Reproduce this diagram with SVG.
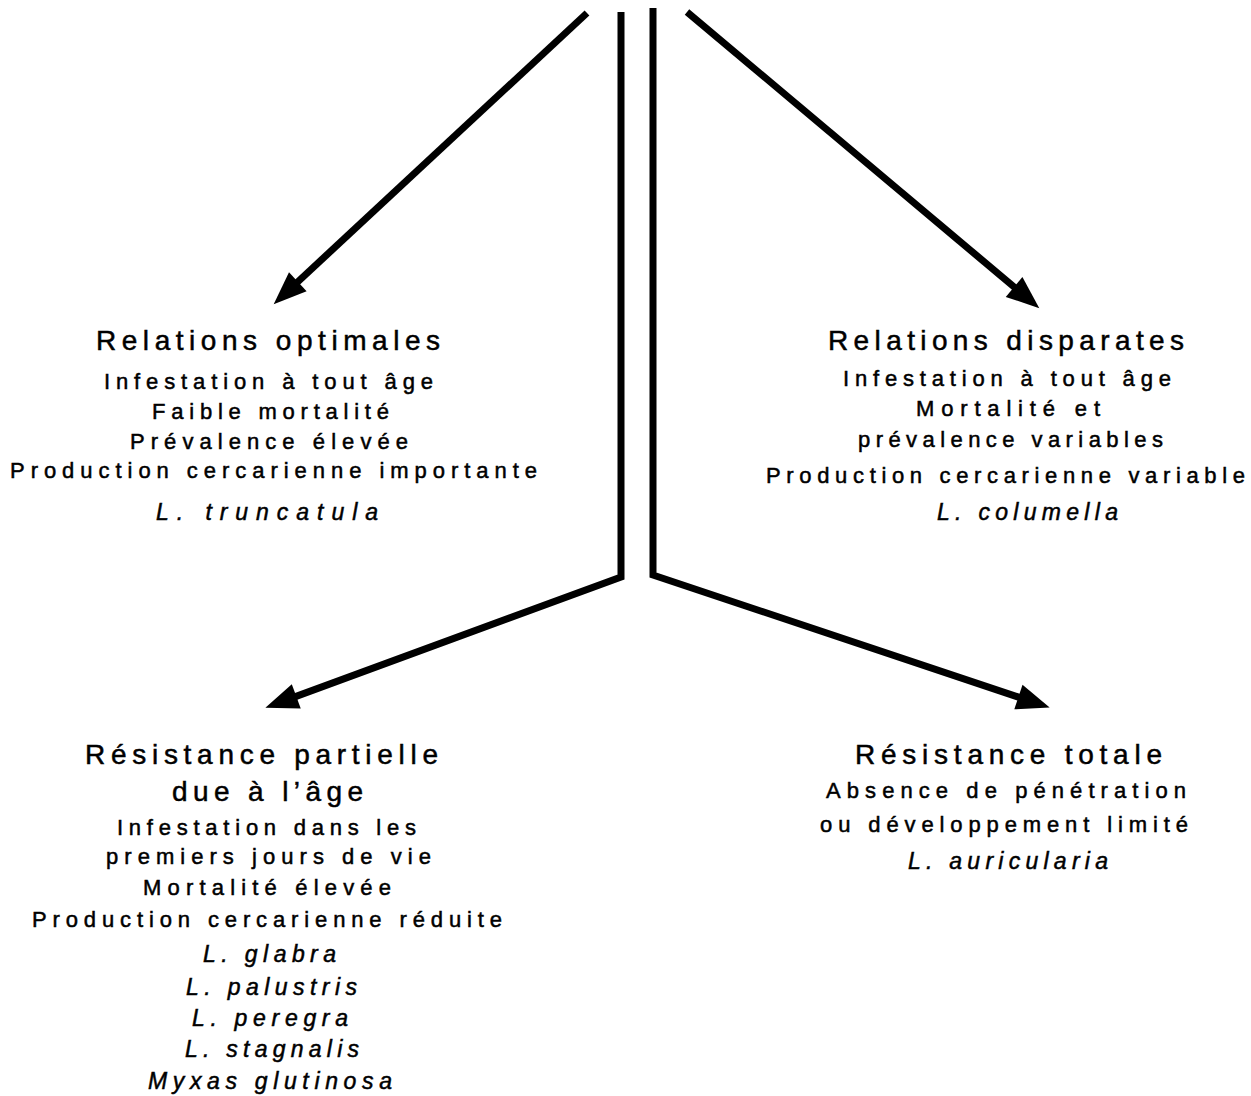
<svg xmlns="http://www.w3.org/2000/svg" width="1251" height="1096" viewBox="0 0 1251 1096">
<style>
text{font-family:"Liberation Sans",Arial,sans-serif;fill:#000;stroke:#000;stroke-width:0.5}
.t{font-size:28px}
.b{font-size:22px}
.s{font-size:23px;font-style:italic}
.c{fill:none;stroke:#000;stroke-width:7;stroke-linejoin:miter}
</style>
<defs>
<marker id="ah" markerUnits="userSpaceOnUse" markerWidth="40" markerHeight="40" refX="18" refY="0" viewBox="-2 -14 34 28" orient="auto">
<path d="M0,-11 L28,0 L0,11 Z" fill="#000"/>
</marker>
</defs>
<rect width="1251" height="1096" fill="#fff"/>
<g id="connectors">
<line class="c" x1="587" y1="13" x2="282.3" y2="296.2" marker-end="url(#ah)"/>
<line class="c" x1="687" y1="12" x2="1030.3" y2="300.6" marker-end="url(#ah)"/>
<polyline class="c" points="621,12 621,577 276.4,703.6" marker-end="url(#ah)"/>
<polyline class="c" points="653,8 653,575 1038.5,703.8" marker-end="url(#ah)"/>
</g>
<g id="optimales">
<text class="t" x="96" y="350" textLength="344" lengthAdjust="spacing">Relations optimales</text>
<text class="b" x="104" y="389" textLength="329" lengthAdjust="spacing">Infestation à tout âge</text>
<text class="b" x="152" y="419" textLength="237" lengthAdjust="spacing">Faible mortalité</text>
<text class="b" x="130" y="449" textLength="278" lengthAdjust="spacing">Prévalence élevée</text>
<text class="b" x="10" y="478" textLength="527" lengthAdjust="spacing">Production cercarienne importante</text>
<text class="s" x="156" y="520" textLength="222" lengthAdjust="spacing">L. truncatula</text>
</g>
<g id="disparates">
<text class="t" x="828" y="350" textLength="356" lengthAdjust="spacing">Relations disparates</text>
<text class="b" x="843" y="386" textLength="328" lengthAdjust="spacing">Infestation à tout âge</text>
<text class="b" x="916" y="416" textLength="184" lengthAdjust="spacing">Mortalité et</text>
<text class="b" x="858" y="447" textLength="305" lengthAdjust="spacing">prévalence variables</text>
<text class="b" x="766" y="483" textLength="479" lengthAdjust="spacing">Production cercarienne variable</text>
<text class="s" x="937" y="520" textLength="181" lengthAdjust="spacing">L. columella</text>
</g>
<g id="partielle">
<text class="t" x="85" y="764" textLength="353" lengthAdjust="spacing">Résistance partielle</text>
<text class="t" x="172" y="801" textLength="191" lengthAdjust="spacing">due à l’âge</text>
<text class="b" x="117" y="835" textLength="299" lengthAdjust="spacing">Infestation dans les</text>
<text class="b" x="106" y="864" textLength="325" lengthAdjust="spacing">premiers jours de vie</text>
<text class="b" x="143" y="895" textLength="248" lengthAdjust="spacing">Mortalité élevée</text>
<text class="b" x="32" y="927" textLength="470" lengthAdjust="spacing">Production cercarienne réduite</text>
<text class="s" x="203" y="962" textLength="133" lengthAdjust="spacing">L. glabra</text>
<text class="s" x="186" y="995" textLength="171" lengthAdjust="spacing">L. palustris</text>
<text class="s" x="192" y="1026" textLength="156" lengthAdjust="spacing">L. peregra</text>
<text class="s" x="185" y="1057" textLength="174" lengthAdjust="spacing">L. stagnalis</text>
<text class="s" x="148" y="1089" textLength="244" lengthAdjust="spacing">Myxas glutinosa</text>
</g>
<g id="totale">
<text class="t" x="855" y="764" textLength="307" lengthAdjust="spacing">Résistance totale</text>
<text class="b" x="826" y="798" textLength="360" lengthAdjust="spacing">Absence de pénétration</text>
<text class="b" x="820" y="832" textLength="368" lengthAdjust="spacing">ou développement limité</text>
<text class="s" x="908" y="869" textLength="200" lengthAdjust="spacing">L. auricularia</text>
</g>
</svg>
